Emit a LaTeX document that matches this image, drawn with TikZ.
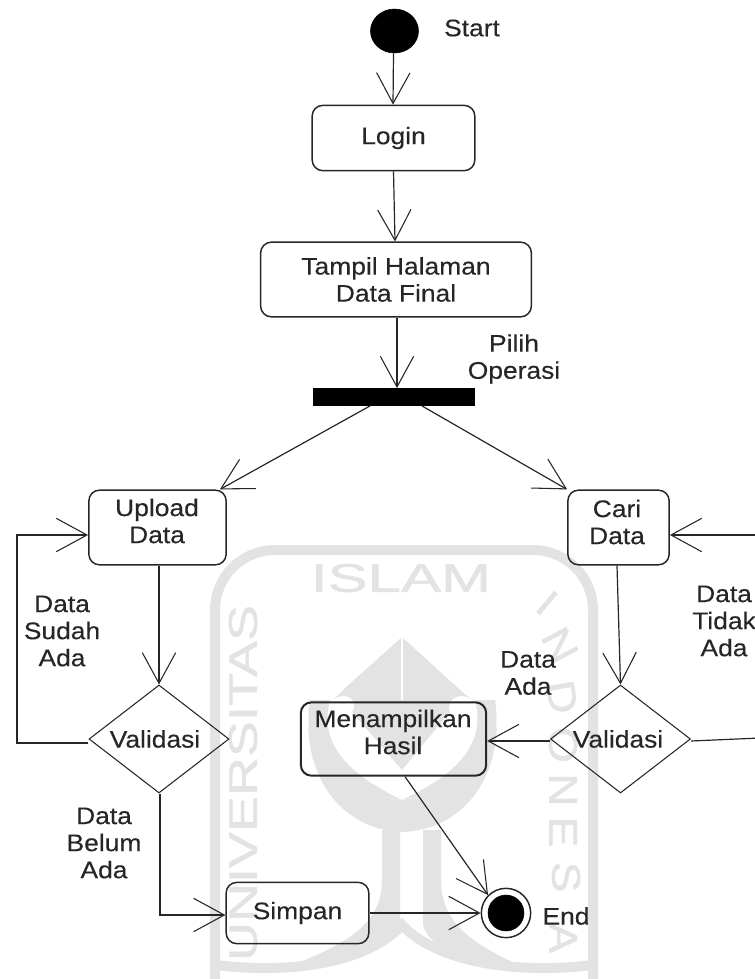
\documentclass[tikz,border=0pt]{standalone}
\usepackage{fontspec}
\setmainfont[FakeStretch=1.1,FakeBold=0.25]{Liberation Sans}
\newfontfamily\wmfont[FakeBold=1.2]{Liberation Sans}
\usetikzlibrary{arrows.meta,shapes.geometric,calc}
\definecolor{wm}{HTML}{E3E3E3}
\definecolor{ink}{HTML}{262626}
\tikzset{
  x=0.75pt,y=-0.75pt,
  every node/.style={font=\fontsize{18pt}{20.3pt}\selectfont,text=ink,align=center,inner sep=0pt},
  box/.style={draw=ink,line width=1.1pt,rounded corners=8pt,anchor=center},
  decision/.style={draw=ink,line width=0.8pt,diamond,aspect=1.3,minimum width=105pt,minimum height=81pt},
  flow/.style={draw=ink,line width=0.9pt,-{Straight Barb[length=23pt,width=25pt,line width=0.8pt]}},
  plain/.style={draw=ink,line width=0.9pt},
  wmtext/.style={font=\wmfont\fontsize{30pt}{30pt}\selectfont,text=wm},
  wmfill/.style={fill=wm,draw=none},
}
\begin{document}
\begin{tikzpicture}
\useasboundingbox (0,0) rectangle (755,979);
% watermark
\draw[wm,line width=7.5pt,rounded corners=45pt] (215,985) -- (215,550) -- (593,550) -- (593,985);
\draw[wm,line width=7.5pt] (215,965) .. controls (300,975) and (370,960) .. (402,925) .. controls (435,960) and (510,975) .. (593,965);
\node[wmtext] (wmislam) at (401,578) {\scalebox{1.5}[1]{ISLAM}};
\node[wmtext,rotate=90] (wmuniv) at (243,783) {\scalebox{1.35}[1]{UNIVERSITAS}};
\foreach \ch/\xx/\yy/\rr/\id in {I/547/603/-40/a,N/560/645/-62/b,D/562/697/-80/c,O/563/745/-90/d,N/563/790/-90/e,E/563/832/-90/f,S/566/877/-90/g,A/563/938/-90/h}
  \node[wmtext,rotate=\rr] (wmind\id) at (\xx,\yy) {\scalebox{1.15}[1]{\ch}};
\path[wmfill] (402,637) -- (345,688) -- (333,700) .. controls (345,690) and (360,700) .. (352,712)
  -- (402,770) -- (450,712) .. controls (445,700) and (460,690) .. (472,700) -- (458,688) -- cycle;
\draw[white,line width=1pt] (402,637) -- (402,700);
\path[wmfill,even odd rule] (308,725) .. controls (310,790) and (350,830) .. (402,832) .. controls (455,830) and (495,790) .. (497,725)
  .. controls (490,760) and (450,795) .. (402,800) .. controls (355,795) and (315,760) .. (308,725) -- cycle;
\path[wmfill] (310,700) .. controls (300,760) and (340,790) .. (402,800) .. controls (350,775) and (318,745) .. (330,700) -- cycle;
\path[wmfill] (495,700) .. controls (505,760) and (465,790) .. (402,800) .. controls (455,775) and (487,745) .. (475,700) -- cycle;
\path[wmfill] (382,830) -- (400,830) -- (400,925) .. controls (380,950) and (340,965) .. (285,968) .. controls (345,945) and (382,925) .. (382,880) -- cycle;
\path[wmfill] (423,830) -- (441,830) -- (441,880) .. controls (441,925) and (475,945) .. (525,968) .. controls (470,965) and (430,950) .. (423,925) -- cycle;
% nodes
\node[fill=black,draw=black,ellipse,minimum width=36pt,minimum height=33pt] (start) at (394.5,31) {};
\node (startlabel) at (472,28) {Start};
\node[box,minimum width=122pt,minimum height=49pt] (login) at (393.5,138) {Login};
\node[box,minimum width=203pt,minimum height=56pt] (tampil) at (396,279.5) {Tampil Halaman\\Data Final};
\node[fill=black,draw=black,minimum width=121pt,minimum height=13pt] (bar) at (393.5,397) {};
\node (pilih) at (514,359) {Pilih\\Operasi};
\node[box,minimum width=103pt,minimum height=56pt] (upload) at (157.5,527.5) {};
\node (uploadtext) at (157,521) {Upload\\Data};
\node[box,minimum width=76pt,minimum height=56pt] (cari) at (618.5,527.5) {};
\node (caritext) at (617,522) {Cari\\Data};
\node[decision] (valL) at (159,739) {};
\node (valLtext) at (155,739) {Validasi};
\node[decision] (valR) at (620.5,739) {};
\node (valRtext) at (618,739) {Validasi};
\node[box,line width=1.5pt,minimum width=139pt,minimum height=55pt] (hasil) at (393.5,739) {};
\node (hasiltext) at (393,732) {Menampilkan\\Hasil};
\node[box,minimum width=107pt,minimum height=46pt] (simpan) at (297.5,913) {Simpan};
\node[circle,draw=ink,line width=1.1pt,minimum size=37pt] (end) at (506,913) {};
\node[circle,fill=black,draw=black,minimum size=27pt] (endcore) at (end) {};
\node (endlabel) at (566,916) {End};
\node (sudah) at (62,631) {Data\\Sudah\\Ada};
\node (tidak) at (724,621) {Data\\Tidak\\Ada};
\node (dataada) at (528,673) {Data\\Ada};
\node (belum) at (104,843) {Data\\Belum\\Ada};
% free ends, off the right edge
\coordinate (offa) at (760,738);
\coordinate (offb) at (760,535);
\coordinate (loopa) at (17,743);
\coordinate (loopb) at (17,535);
\coordinate (downa) at (160,915);
% connectors
\draw[flow] (start.south) ++(-1,0) -- ($(login.north)+(-0.5,0)$);
\draw[flow] (login.south) -- ($(tampil.north)+(-1,0)$);
\draw[flow] ($(tampil.south)+(1,0)$) -- ($(bar.north)+(3.5,0)$);
\draw[flow] ($(bar.south)+(-23.5,0)$) -- ($(upload.north east)+(-7,0)$);
\draw[flow] ($(bar.south)+(28.5,0)$) -- ($(cari.north west)+(0,0)$);
\draw[flow] (upload.south) ++(1.5,0) -- (valL.north);
\draw[flow] ($(cari.south)+(-1.5,0)$) -- (valR.north);
\draw[flow] (valL.west) ++(0,4) -- (loopa) -- (loopb) -- (upload.west |- loopb);
\draw[flow] (valL.south) ++(1,0) -- (downa) -- (simpan.west |- downa);
\draw[flow] (valR.west) ++(0,2) -- (hasil.east |- {$(valR.west)+(0,2)$});
\draw[plain] (valR.east) ++(0,2) -- (offa) -- (offb);
\draw[flow] (offb) -- (cari.east |- offb);
\draw[flow] ($(hasil.south)+(11.5,0)$) -- (end.north west);
\draw[flow] (simpan.east) -- (end.west);
\end{tikzpicture}
\end{document}
